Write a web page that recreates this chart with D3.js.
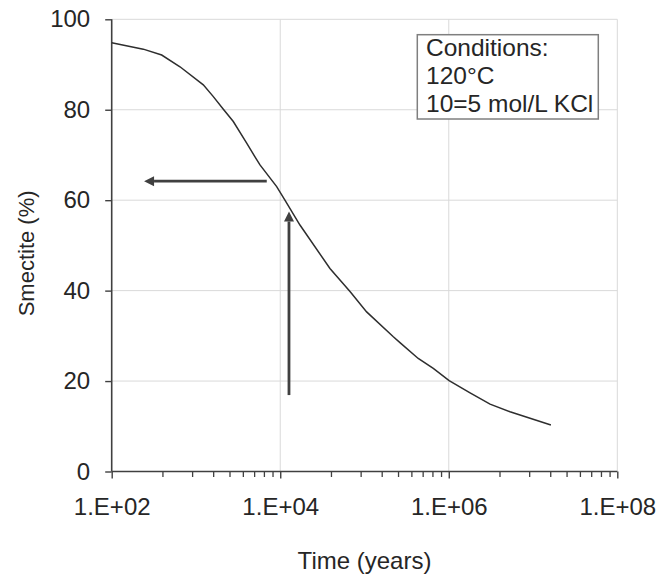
<!DOCTYPE html>
<html>
<head>
<meta charset="utf-8">
<script src="https://cdn.jsdelivr.net/npm/d3@7"></script>
<style>
  html, body { margin: 0; padding: 0; background: #fff; }
  svg { display: block; font-family: "Liberation Sans", Arial, sans-serif; }
</style>
</head>
<body>
<svg id="chart" width="659" height="576"></svg>
<script>
// ---- data ----
const timeYears = [100, 237, 392, 646, 1222, 1607, 2113, 2773, 3998, 5016, 5750, 9075, 11370, 17140, 38900, 67300, 106000, 219800, 263600, 434000, 655000, 1010000, 1790000, 3090000, 5330000, 16300000];
const smectite  = [94.8, 93.4, 92.1, 89.5, 85.5, 82.9, 80.1, 77.4, 72.6, 69.6, 67.8, 63.0, 60.0, 54.5, 44.9, 39.8, 35.3, 29.8, 28.5, 25.0, 22.8, 20.1, 17.4, 14.9, 13.2, 10.3];
const xMajorTicks = [1e2, 1e4, 1e6, 1e8];
const xTickLabels = ["1.E+02", "1.E+04", "1.E+06", "1.E+08"];
const yTicks = [0, 20, 40, 60, 80, 100];
const legendLines = ["Conditions:", "120°C", "10=5 mol/L KCl"];
const xTitle = "Time (years)";
const yTitle = "Smectite (%)";
// arrows: [x1, y1, x2(tip), y2(tip)] in data units
const arrowLeft = [6920, 64.2, 242, 64.2];
const arrowUp = [12700, 16.9, 12700, 57.5];

// ---- layout ----
const L = 111.7, R = 617.3, T = 19.3, B = 471.5;
const svg = d3.select("#chart");
const x = d3.scaleLog().domain([1e2, 1e8]).range([L, R]);
const y = d3.scaleLinear().domain([0, 100]).range([B, T]);
const axisColor = "#404040", textColor = "#262626", gridColor = "#d9d9d9";
const fs = 24;

// minor ticks (Excel style: 2-decade major unit, minor at k^2 multiples)
const xMinorTicks = [];
xMajorTicks.slice(0, -1).forEach(m => { for (let k = 2; k <= 9; k++) xMinorTicks.push(m * k * k); });

// grid
svg.append("g").selectAll("line").data(yTicks.filter(d => d > 0)).join("line")
  .attr("x1", L).attr("x2", R).attr("y1", d => y(d)).attr("y2", d => y(d))
  .attr("stroke", gridColor).attr("stroke-width", 1);
svg.append("g").selectAll("line").data(xMajorTicks.slice(1)).join("line")
  .attr("x1", d => x(d)).attr("x2", d => x(d)).attr("y1", T).attr("y2", B)
  .attr("stroke", gridColor).attr("stroke-width", 1);

// y axis
const yAxis = svg.append("g").attr("transform", `translate(${L},0)`)
  .call(d3.axisLeft(y).tickValues(yTicks).tickSize(6.5).tickPadding(15).tickFormat(d3.format("d")));
yAxis.select(".domain").attr("stroke", axisColor).attr("stroke-width", 1.6).attr("d", `M0,${T}V${B}`);
yAxis.selectAll(".tick line").attr("stroke", axisColor).attr("stroke-width", 1.4);
yAxis.selectAll(".tick text").attr("fill", textColor).attr("font-size", fs).attr("font-family", "Liberation Sans, Arial, sans-serif");

// x axis minor
const xMinor = svg.append("g").attr("transform", `translate(0,${B})`)
  .call(d3.axisBottom(x).tickValues(xMinorTicks).tickSize(5.5).tickFormat(""));
xMinor.select(".domain").remove();
xMinor.selectAll(".tick line").attr("stroke", axisColor).attr("stroke-width", 1.3);

// x axis major
const xAxis = svg.append("g").attr("transform", `translate(0,${B})`)
  .call(d3.axisBottom(x).tickValues(xMajorTicks).tickSize(7).tickPadding(19)
    .tickFormat((d, i) => xTickLabels[i]));
xAxis.select(".domain").attr("stroke", axisColor).attr("stroke-width", 1.6).attr("d", `M${L},0H${R}`);
xAxis.selectAll(".tick line").attr("stroke", axisColor).attr("stroke-width", 1.4);
xAxis.selectAll(".tick text").attr("fill", textColor).attr("font-size", fs).attr("font-family", "Liberation Sans, Arial, sans-serif");

// curve
const line = d3.line().x(d => x(d[0])).y(d => y(d[1]));
svg.append("path").datum(timeYears.map((t, i) => [t, smectite[i]]))
  .attr("d", line).attr("fill", "none").attr("stroke", "#2e2e2e").attr("stroke-width", 1.5);

// arrows
function arrow(a) {
  const x1 = x(a[0]), y1 = y(a[1]), x2 = x(a[2]), y2 = y(a[3]);
  const dx = x2 - x1, dy = y2 - y1, len = Math.hypot(dx, dy);
  const ux = dx / len, uy = dy / len, hl = 10, hw = 5;
  const bx = x2 - ux * hl, by = y2 - uy * hl;
  svg.append("line").attr("x1", x1).attr("y1", y1).attr("x2", bx).attr("y2", by)
    .attr("stroke", "#404040").attr("stroke-width", 2.8);
  svg.append("path")
    .attr("d", `M${x2},${y2}L${bx - uy * hw},${by + ux * hw}L${bx + uy * hw},${by - ux * hw}Z`)
    .attr("fill", "#404040");
}
arrow(arrowLeft);
arrow(arrowUp);

// legend box
const lg = svg.append("g");
lg.append("rect").attr("x", 417.3).attr("y", 34.7).attr("width", 181).attr("height", 84.3)
  .attr("fill", "#fff").attr("stroke", "#7f7f7f").attr("stroke-width", 1.5);
lg.selectAll("text").data(legendLines).join("text")
  .attr("x", 426).attr("y", (d, i) => 56 + i * 27.8)
  .attr("fill", textColor).attr("font-size", 24.5).text(d => d);

// axis titles
svg.append("text").attr("x", (L + R) / 2).attr("y", 569).attr("text-anchor", "middle")
  .attr("fill", textColor).attr("font-size", fs).text(xTitle);
svg.append("text").attr("transform", `translate(34,${(T + B) / 2 + 8}) rotate(-90)`)
  .attr("text-anchor", "middle").attr("fill", textColor).attr("font-size", 22).text(yTitle);
</script>
</body>
</html>
